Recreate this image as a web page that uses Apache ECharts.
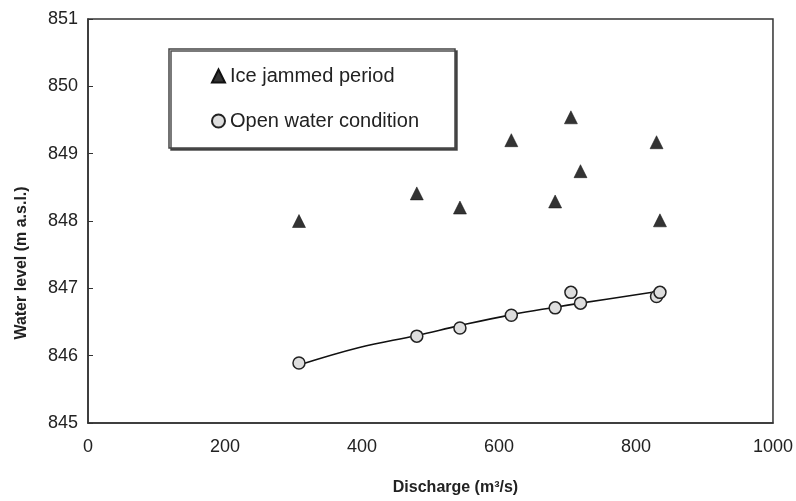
<!DOCTYPE html>
<html>
<head>
<meta charset="utf-8">
<script src="https://cdn.jsdelivr.net/npm/echarts@6/dist/echarts.min.js"></script>
<style>html,body{margin:0;padding:0;background:#fff}#c{width:796px;height:501px}</style>
</head>
<body>
<div id="c"></div>
<script>
var discharge = [308, 480, 543, 618, 682, 705, 719, 830, 835];
var iceJammed = [848.0, 848.41, 848.2, 849.2, 848.29, 849.54, 848.74, 849.17, 848.01];
var openWater = [845.89, 846.29, 846.41, 846.60, 846.71, 846.94, 846.78, 846.88, 846.94];
var trendX = [308, 396, 480, 544, 619, 682, 719, 836];
var trendY = [845.86, 846.12, 846.30, 846.45, 846.61, 846.72, 846.78, 846.96];
var xTicks = [0, 200, 400, 600, 800, 1000];
var yTicks = [845, 846, 847, 848, 849, 850, 851];

function pairs(xs, ys){ return xs.map(function(x,i){ return [x, ys[i]]; }); }

var font = 'Liberation Sans, Arial, Helvetica, sans-serif';
var chart = echarts.init(document.getElementById('c'), null, {renderer:'canvas'});
chart.setOption({
  animation: false,
  backgroundColor: '#fff',
  textStyle: {fontFamily: font},
  grid: {left: 88, right: 14, top: 19, bottom: 68, show: true, borderColor: '#333', borderWidth: 1.5, containLabel: false},
  xAxis: {
    type: 'value', min: xTicks[0], max: xTicks[xTicks.length-1], interval: 200,
    name: 'Discharge (m³/s)', nameLocation: 'middle', nameGap: 57,
    nameTextStyle: {fontFamily: font, fontWeight: 'bold', fontSize: 16, color: '#222', padding: [0, 0, 0, 50]},
    axisLine: {show: true, lineStyle: {color: '#333', width: 1.5}},
    axisTick: {show: false},
    axisLabel: {fontFamily: font, fontSize: 18, color: '#222', margin: 15, formatter: function(v){ return String(v); }},
    splitLine: {show: false}
  },
  yAxis: {
    type: 'value', min: yTicks[0], max: yTicks[yTicks.length-1], interval: 1,
    name: 'Water level (m a.s.l.)', nameLocation: 'middle', nameGap: 58,
    nameTextStyle: {fontFamily: font, fontWeight: 'bold', fontSize: 16, color: '#222', padding: [0, 84, 0, 0]},
    axisLine: {show: true, lineStyle: {color: '#333', width: 1.5}},
    axisTick: {show: true, inside: true, length: 5, lineStyle: {color: '#333', width: 1}},
    axisLabel: {fontFamily: font, fontSize: 18, color: '#222', margin: 10, formatter: function(v){ return String(v); }},
    splitLine: {show: false}
  },
  legend: {
    left: 169, top: 49, orient: 'vertical',
    data: [{name: 'Ice jammed period', icon: 'triangle'}, {name: 'Open water condition', icon: 'circle'}],
    itemWidth: 13, itemHeight: 13, itemGap: 25,
    padding: [17, 36, 17, 42],
    backgroundColor: '#fff', borderColor: '#444', borderWidth: 1.5,
    shadowColor: 'rgba(60,60,60,0.9)', shadowOffsetX: 2, shadowOffsetY: 2, shadowBlur: 0,
    textStyle: {fontFamily: font, fontSize: 20, color: '#222', lineHeight: 20}
  },
  series: [
    {
      name: 'trend', type: 'line', data: pairs(trendX, trendY), smooth: 0.4,
      showSymbol: false, symbol: 'none', lineStyle: {color: '#111', width: 1.6}, z: 1, silent: true
    },
    {
      name: 'Ice jammed period', type: 'scatter', data: pairs(discharge, iceJammed),
      symbol: 'triangle', symbolSize: 13, itemStyle: {color: '#333', borderColor: '#111', borderWidth: 0.5, opacity: 1}, z: 3
    },
    {
      name: 'Open water condition', type: 'scatter', data: pairs(discharge, openWater),
      symbol: 'circle', symbolSize: 12, itemStyle: {color: '#dedede', borderColor: '#222', borderWidth: 1.5, opacity: 1}, z: 3
    }
  ]
});
</script>
</body>
</html>
